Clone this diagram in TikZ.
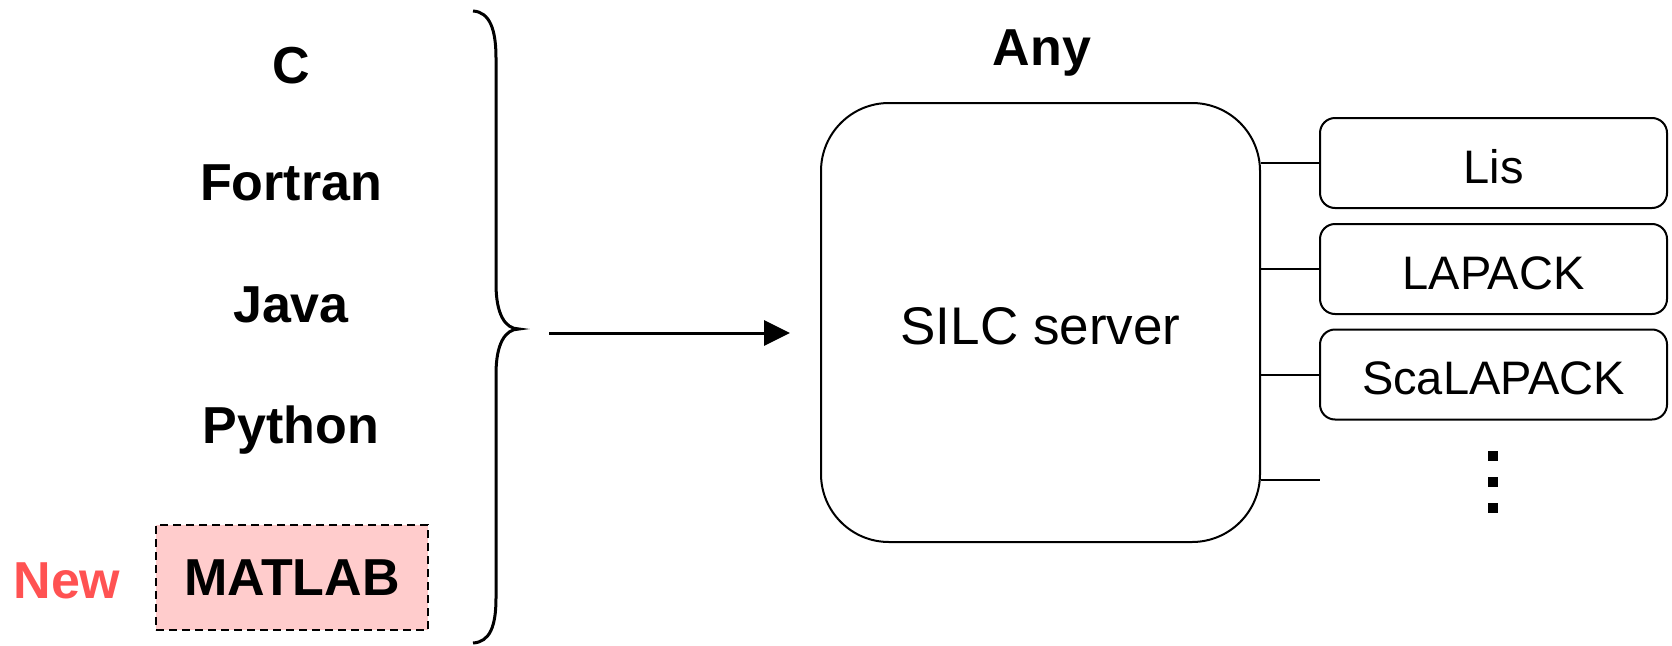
\documentclass[tikz,border=0pt]{standalone}
\usepackage{fontspec}
\setmainfont{Liberation Sans}
\usetikzlibrary{arrows.meta}
\definecolor{newred}{RGB}{255,82,82}
\definecolor{matpink}{RGB}{255,204,204}
\begin{document}
\begin{tikzpicture}[x=1pt,y=-1pt,
  lang/.style={font=\fontsize{52}{52}\selectfont\bfseries, anchor=base, inner sep=0pt},
  libbox/.style={draw, line width=2pt, rounded corners=15pt, minimum width=347pt,
    minimum height=90pt, inner sep=0pt, text height=40pt, text depth=0pt,
    font=\fontsize{47}{47}\selectfont},
  conn/.style={line width=2pt},
  dotsq/.style={fill=black}]
\useasboundingbox (0,0) rectangle (1672,645);

% language labels
\node[lang] (c) at (291,83) {C};
\node[lang] (fortran) at (291,200) {Fortran};
\node[lang] (java) at (291,322) {Java};
\node[lang] (python) at (291,443) {Python};
\node[draw, dash pattern=on 8pt off 5pt, line width=2pt, fill=matpink,
  minimum width=272pt, minimum height=105pt, inner sep=0pt,
  font=\fontsize{52}{52}\selectfont\bfseries] (matlab) at (292,577.5) {MATLAB};
\node[lang, text=newred] (new) at (67,598) {New};

% brace
\draw[line width=3pt]
  (473,11) .. controls (490,12) and (496,30) .. (496,58)
  -- (496,284) .. controls (496,314) and (505,329) .. (519,329)
  .. controls (505,329) and (496,344) .. (496,374)
  -- (496,598) .. controls (496,626) and (490,642) .. (473,643);

% arrow
\coordinate (arrS) at (549,333);
\coordinate (arrE) at (790,333);
\draw[line width=3pt, -{Triangle[length=26pt,width=25pt]}] (arrS) -- (arrE);

% server
\node[font=\fontsize{52}{52}\selectfont\bfseries, anchor=base, inner sep=0pt] (any) at (1042,65) {Any};
\node[draw, line width=2pt, rounded corners=68pt, minimum width=439pt,
  minimum height=439pt, inner sep=0pt, text height=44pt, text depth=0pt,
  font=\fontsize{53}{53}\selectfont]
  (server) at (1040.5,322.5) {SILC server};

% libraries
\node[libbox] (lis) at (1493.5,163) {Lis};
\node[libbox] (lapack) at (1493.5,269) {LAPACK};
\node[libbox] (scalapack) at (1493.5,374.5) {ScaLAPACK};
\coordinate (more) at (1320,480);

\draw[conn] (server.east |- lis.west) -- (lis.west);
\draw[conn] (server.east |- lapack.west) -- (lapack.west);
\draw[conn] (server.east |- scalapack.west) -- (scalapack.west);
\draw[conn] (server.east |- more) -- (more);

% vertical dots
\foreach \yy in {456,482,508}
  \fill[dotsq] (1488,\yy-5) rectangle (1498,\yy+5);
\end{tikzpicture}
\end{document}
